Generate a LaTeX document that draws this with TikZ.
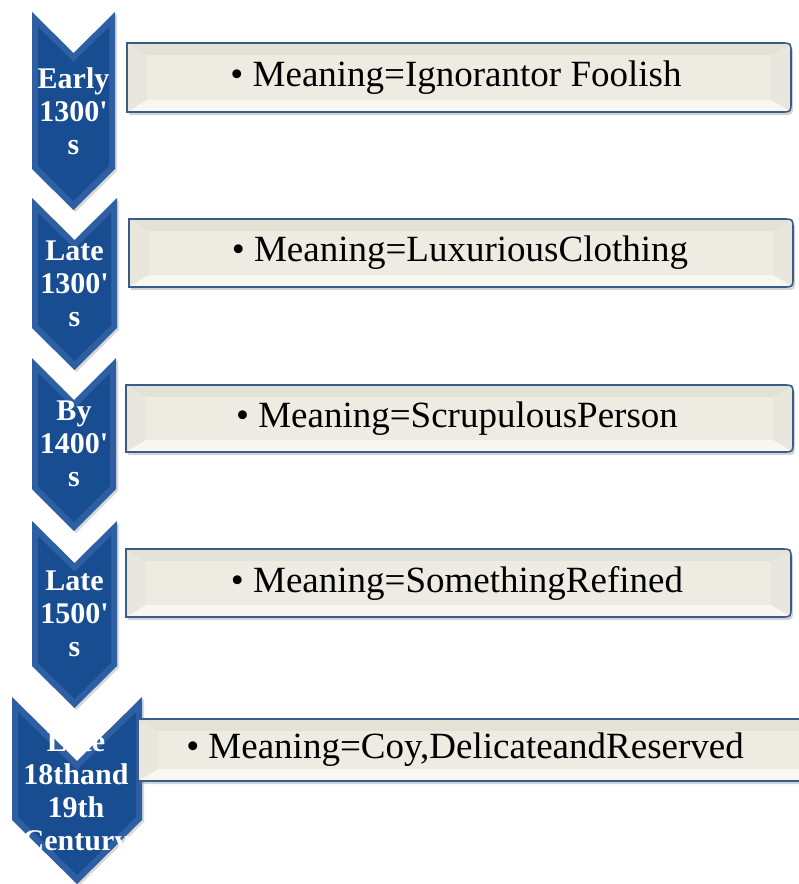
\documentclass[tikz,border=0pt]{standalone}
\usepackage{fontspec}
\setmainfont{Liberation Serif}
\usepackage{xcolor}
\usepackage{tikz}
\usetikzlibrary{shadows}
\definecolor{ChevBlue}{RGB}{25,77,146}
\definecolor{ChevLight}{RGB}{46,95,163}
\definecolor{BoxLine}{RGB}{56,93,138}
\definecolor{BoxCream}{RGB}{238,236,226}
\definecolor{BoxTop}{RGB}{228,226,215}
\definecolor{BoxSide}{RGB}{233,231,221}
\definecolor{BoxBottom}{RGB}{248,247,241}
\tikzset{
    yeartext/.style={text=white, align=center, inner sep=0pt, font=\fontsize{30}{33}\selectfont\bfseries},
    meantext/.style={text=black, inner sep=0pt, font=\fontsize{37}{40}\selectfont}
}

% chevron: left, right, top, bottom, notch depth
\newcommand{\yearchevron}[5]{%
    \fill[ChevLight, drop shadow={opacity=0.3, shadow xshift=2pt, shadow yshift=-2pt}]
        (#1,#3) -- ({(#1+#2)/2},{#3+#5}) -- (#2,#3) -- (#2,{#4-#5})
        -- ({(#1+#2)/2},#4) -- (#1,{#4-#5}) -- cycle;
    \fill[ChevBlue]
        ({#1+6},{#3+15}) -- ({(#1+#2)/2},{#3+#5+9}) -- ({#2-6},{#3+15}) -- ({#2-6},{#4-#5-3})
        -- ({(#1+#2)/2},{#4-9}) -- ({#1+6},{#4-#5-3}) -- cycle;
}

% box outline: left, right, top, bottom
\newcommand{\boxoutline}[4]{(#1,#3) -- ({#2-10},#3) .. controls (#2,#3) .. (#2,{#3+10})
    -- (#2,{#4-10}) .. controls (#2,#4) .. ({#2-10},#4) -- (#1,#4) -- cycle}

\newcommand{\meaningbox}[4]{%
    \fill[BoxSide, drop shadow={opacity=0.35, shadow xshift=2pt, shadow yshift=-3pt}] \boxoutline{#1}{#2}{#3}{#4};
    \fill[BoxTop] (#1,#3) -- (#2,#3) -- ({#2-20},{#3+12}) -- ({#1+20},{#3+12}) -- cycle;
    \fill[BoxBottom] (#1,#4) -- (#2,#4) -- ({#2-20},{#4-12}) -- ({#1+20},{#4-12}) -- cycle;
    \fill[BoxCream] ({#1+20},{#3+12}) rectangle ({#2-20},{#4-12});
    \draw[BoxLine, line width=1.6pt] \boxoutline{#1}{#2}{#3}{#4};
}

\begin{document}
\begin{tikzpicture}[x=1pt, y=-1pt]
    \useasboundingbox (0,0) rectangle (799,884);

    % --- CHEVRONS ---
    \yearchevron{32}{115}{12}{210}{41}
    \yearchevron{32}{117}{198}{370}{42}
    \yearchevron{32}{116}{358}{531}{42}
    \yearchevron{32}{117}{521}{708}{42}
    \yearchevron{12}{142}{697}{884}{64}

    % --- BOXES ---
    \meaningbox{127}{791}{43}{112}
    \meaningbox{129}{793}{219}{287}
    \meaningbox{126}{793}{385}{452}
    \meaningbox{126}{791}{549}{617}
    \meaningbox{138}{830}{719}{781}

    % --- YEARS ---
    \node[yeartext] (yr1) at (73.5,111) {Early\\1300\textquotesingle\\s};
    \node[yeartext] (yr2) at (74.5,284) {Late\\1300\textquotesingle\\s};
    \node[yeartext] (yr3) at (74,444) {By\\1400\textquotesingle\\s};
    \node[yeartext] (yr4) at (74.5,614) {Late\\1500\textquotesingle\\s};
    \node[yeartext] (yr5) at (76,794) {Late\\18thand\\19th\\Century};

    % --- MEANINGS ---
    \node[meantext] (mn1) at (456,77.5) {\textbullet\ Meaning=Ignorantor Foolish};
    \node[meantext] (mn2) at (460,253) {\textbullet\ Meaning=LuxuriousClothing};
    \node[meantext] (mn3) at (457,418.5) {\textbullet\ Meaning=ScrupulousPerson};
    \node[meantext] (mn4) at (457,583) {\textbullet\ Meaning=SomethingRefined};
    \node[meantext] (mn5) at (465,750) {\textbullet\ Meaning=Coy,DelicateandReserved};
\end{tikzpicture}
\end{document}
